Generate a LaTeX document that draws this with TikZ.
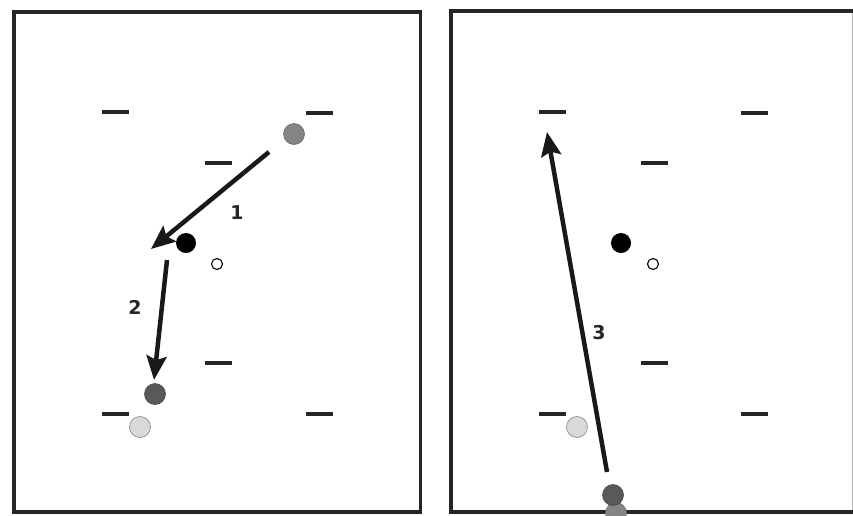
\documentclass[tikz,border=0pt]{standalone}
\usepackage{fontspec}
\setmainfont{DejaVu Sans}
\usetikzlibrary{arrows.meta}
\definecolor{midgrey}{HTML}{858585}
\definecolor{darkgrey}{HTML}{595959}
\definecolor{lightgrey}{HTML}{D9D9D9}
\tikzset{
  frame/.style={draw=black!85, line width=3.8pt},
  mark dash/.style={fill=black!85, draw=none, rectangle, minimum width=27pt, minimum height=4.2pt, inner sep=0pt},
  player/.style={circle, minimum size=21pt, inner sep=0pt},
  ballc/.style={circle, draw=black, line width=1.1pt, fill=white, minimum size=11pt, inner sep=0pt},
  runarrow/.style={draw=black!90, line width=4.5pt, -{Stealth[length=24pt,width=20pt,inset=4pt]}},
  numlabel/.style={font=\fontsize{19}{21}\selectfont\bfseries, text=black!85}
}
\begin{document}
\begin{tikzpicture}[x=1pt,y=-1pt]
\useasboundingbox (0,0) rectangle (853,515);
\clip (0,0) rectangle (853,515);
% frames
\draw[frame] (14,12) rectangle (420.5,512);
\draw[frame] (451,11) rectangle (870,512);
\draw[gray!60, line width=0.8pt] (852,13) -- (852,510);

% ---------- left panel ----------
\node[mark dash] (l1) at (115,112) {};
\node[mark dash] (l2) at (319.5,113) {};
\node[mark dash] (l3) at (218,163) {};
\node[mark dash] (l4) at (218,363) {};
\node[mark dash] (l5) at (115,414) {};
\node[mark dash] (l6) at (319.5,414) {};

\node[player, fill=midgrey, draw=midgrey!80!black, line width=0.6pt] (lg) at (294,134) {};
\node[player, fill=black, minimum size=20pt] (lb) at (186,243) {};
\node[ballc] (lball) at (217,264) {};
\node[player, fill=darkgrey, draw=darkgrey!80!black, line width=0.6pt] (ld) at (155,394) {};
\node[player, fill=lightgrey, draw=gray!80, line width=0.8pt] (ll) at (140,427) {};

\coordinate (a1s) at (269,152);
\coordinate (a1e) at (151,249);
\coordinate (a2s) at (167,260);
\coordinate (a2e) at (154,380);
\draw[runarrow] (a1s) -- (a1e);
\draw[runarrow] (a2s) -- (a2e);
\node[numlabel] (n1) at (237,213) {1};
\node[numlabel] (n2) at (135,307) {2};

% ---------- right panel ----------
\node[mark dash] (r1) at (552,112) {};
\node[mark dash] (r2) at (754,113) {};
\node[mark dash] (r3) at (654,163) {};
\node[mark dash] (r4) at (654,363) {};
\node[mark dash] (r5) at (552,414) {};
\node[mark dash] (r6) at (754,414) {};

\node[player, fill=black, minimum size=20pt] (rb) at (621,243) {};
\node[ballc] (rball) at (653,264) {};
\node[player, fill=lightgrey, draw=gray!80, line width=0.8pt] (rl) at (577,427) {};
\node[player, fill=midgrey, draw=midgrey!80!black, line width=0.6pt] (rg) at (616,513) {};
\node[player, fill=darkgrey, draw=darkgrey!80!black, line width=0.6pt] (rd) at (613,495) {};

\coordinate (a3s) at (607,472);
\coordinate (a3e) at (547,132);
\draw[runarrow] (a3s) -- (a3e);
\node[numlabel] (n3) at (599,333) {3};
\end{tikzpicture}
\end{document}
